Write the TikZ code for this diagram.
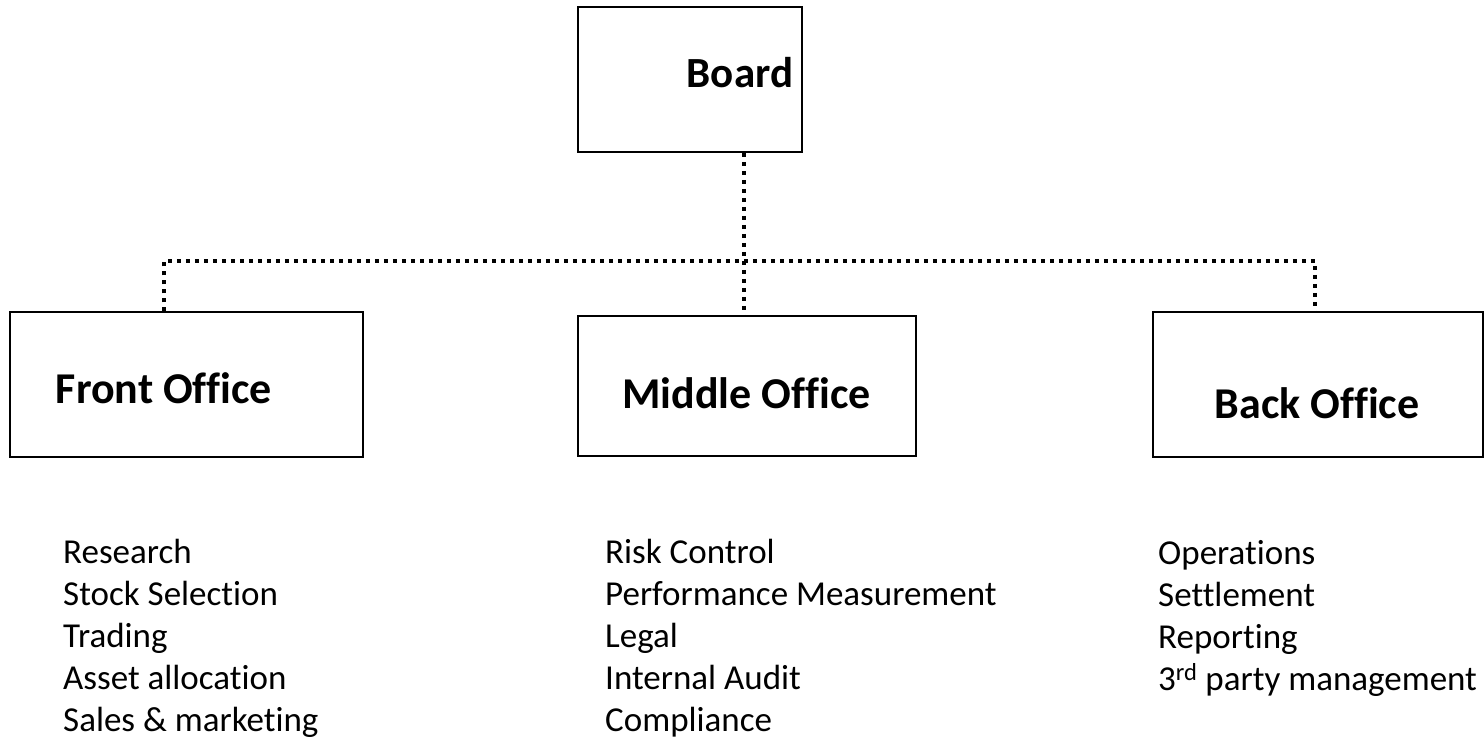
\documentclass[tikz,border=0pt]{standalone}
\usepackage{fontspec}
\setmainfont{Carlito}[Ligatures=NoCommon]
\usetikzlibrary{positioning}

\tikzset{
  officebox/.style={draw, line width=1.5pt, inner sep=0pt},
  headtxt/.style={font=\fontsize{44}{50}\selectfont\bfseries, inner sep=0pt, anchor=base},
  listtxt/.style={font=\fontsize{35}{42}\selectfont, align=left, inner sep=0pt, anchor=base west},
  dotline/.style={line width=4pt, dash pattern=on 4pt off 5pt}
}

\begin{document}
\begin{tikzpicture}[x=1pt, y=1pt]
  \useasboundingbox (0,0) rectangle (1484,-739);
  % boxes
  \node[officebox, minimum width=224, minimum height=145] (board) at (690,-79.5) {};
  \node[officebox, minimum width=353, minimum height=145] (front) at (186.5,-384.5) {};
  \node[officebox, minimum width=338, minimum height=140] (mid) at (747,-386) {};
  \node[officebox, minimum width=330, minimum height=145] (back) at (1318,-384.5) {};
  % titles
  \node[headtxt, font=\fontsize{43}{50}\selectfont\bfseries] (boardtxt) at (740,-87) {Board};
  \node[headtxt] (fronttxt) at (164,-403) {Front Office};
  \node[headtxt] (midtxt) at (746.5,-408) {Middle Office};
  \node[headtxt] (backtxt) at (1317,-418) {Back Office};
  % dotted connectors
  \coordinate (busL) at (164,-261);
  \coordinate (busR) at (1315,-261);
  \coordinate (trunk) at (744,-261);
  \draw[dotline] (front.north -| busL) -- (busL) -- (busR) -- (back.north -| busR);
  \draw[dotline] (board.south -| trunk) -- (mid.north -| trunk);
  % duty lists (anchored on last line)
  \node[listtxt] (frontlist) at (63,-731) {Research\\Stock Selection\\Trading\\Asset allocation\\Sales \& marketing};
  \node[listtxt] (midlist) at (605,-731) {Risk Control\\Performance Measurement\\Legal\\Internal Audit\\Compliance};
  \node[listtxt] (backlist) at (1158,-690) {Operations\\Settlement\\Reporting\\3\textsuperscript{rd} party management};
\end{tikzpicture}
\end{document}
